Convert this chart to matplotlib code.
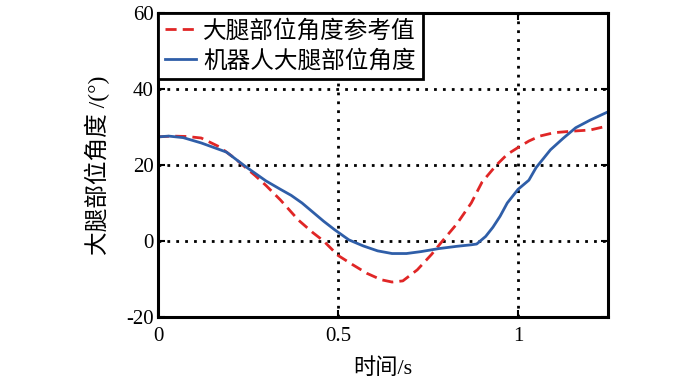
import matplotlib
matplotlib.use('Agg')
import matplotlib.pyplot as plt
import numpy as np

plt.rcParams['font.family'] = ['Liberation Serif', 'Noto Sans CJK SC']
plt.rcParams['axes.unicode_minus'] = False

# reference thigh angle (red dashed)
t_ref = [0, 0.04, 0.08, 0.12, 0.17, 0.21, 0.24, 0.27, 0.30, 0.34, 0.39, 0.43,
         0.46, 0.50, 0.54, 0.58, 0.62, 0.65, 0.68, 0.72, 0.76, 0.79, 0.83, 0.87,
         0.90, 0.94, 0.97, 1.00, 1.03, 1.06, 1.10, 1.15, 1.20, 1.25]
y_ref = [27.4, 27.6, 27.5, 27.1, 24.8, 22.0, 19.6, 17.2, 14.6, 10.8, 5.5, 2.2,
         0.0, -3.8, -6.2, -8.5, -10.2, -10.8, -10.5, -7.6, -3.5, 0.0, 4.5, 10.0,
         15.5, 20.0, 22.8, 24.6, 26.3, 27.6, 28.5, 28.9, 29.2, 30.3]

# robot thigh angle (blue solid)
t_rob = [0, 0.03, 0.07, 0.12, 0.19, 0.24, 0.30, 0.34, 0.37, 0.40, 0.43, 0.46,
         0.49, 0.53, 0.57, 0.61, 0.65, 0.69, 0.73, 0.78, 0.83, 0.87, 0.885,
         0.91, 0.93, 0.95, 0.97, 1.00, 1.03, 1.05, 1.09, 1.125, 1.16, 1.20, 1.25]
y_rob = [27.4, 27.6, 27.2, 25.8, 23.4, 19.8, 15.8, 13.6, 12.0, 10.0, 7.6, 5.2,
         3.0, 0.3, -1.3, -2.6, -3.3, -3.3, -2.8, -2.0, -1.4, -1.0, -0.8,
         1.2, 3.6, 6.5, 10.0, 13.6, 16.0, 19.3, 24.0, 27.0, 29.8, 31.8, 34.0]

labels = ['大腿部位角度参考值', '机器人大腿部位角度']
xticks = [0, 0.5, 1]
yticks = [-20, 0, 20, 40, 60]

fig = plt.figure(figsize=(7, 3.84), dpi=100)
ax = fig.add_axes([0.2257, 0.1745, 0.643, 0.7917])

ax.plot(t_ref, y_ref, color='#e02626', lw=2.0, dashes=(4, 2.2), label=labels[0])
ax.plot(t_rob, y_rob, color='#2f5ea8', lw=2.0, label=labels[1])

ax.set_xlim(0, 1.25)
ax.set_ylim(-20, 60)
ax.set_xticks(xticks)
ax.set_xticklabels(['0', '0.5', '1'])
ax.set_yticks(yticks)
ax.grid(True, color='black', linestyle=(0, (1, 2.2)), linewidth=2.0)
ax.tick_params(direction='in', length=5, width=1.5, top=True, right=True,
               labelsize=15)
ax.tick_params(axis='x', pad=7)
ax.tick_params(axis='y', pad=3)
for s in ax.spines.values():
    s.set_linewidth(2.2)

ax.set_xlabel('时间/s', fontsize=16, labelpad=9)
ax.set_ylabel('大腿部位角度 /(°)', fontsize=17, labelpad=12)

leg = ax.legend(loc='upper left', bbox_to_anchor=(0, 1), borderaxespad=0,
                fancybox=False, edgecolor='black', framealpha=1,
                fontsize=17, handlelength=1.3, handletextpad=0.3,
                borderpad=0.3, labelspacing=0.3)
leg.get_frame().set_linewidth(2.0)

fig.savefig('out.png', dpi=100)
